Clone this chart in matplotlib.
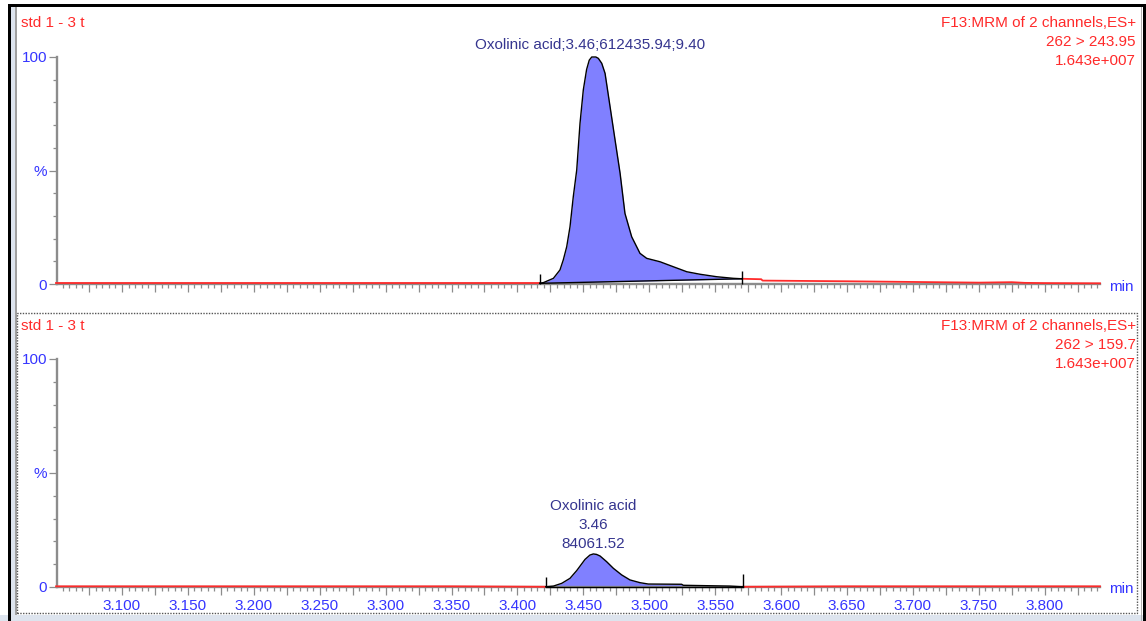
import numpy as np
import matplotlib
matplotlib.use("Agg")
import matplotlib.pyplot as plt
from matplotlib.patches import Rectangle
from matplotlib.ticker import MultipleLocator, FixedLocator

plt.rcParams['font.family'] = ['Liberation Sans', 'DejaVu Sans']

# ---- data (time in min, intensity in %) ----
top_time = [3.050, 3.200, 3.350, 3.417, 3.4197, 3.4273, 3.4323, 3.4348, 3.4374,
            3.4399, 3.4424, 3.4450, 3.4475, 3.4500, 3.4525, 3.4545, 3.4564,
            3.4595, 3.4614, 3.4640, 3.4665, 3.4703, 3.4741, 3.4779, 3.4816,
            3.4867, 3.4930, 3.4981, 3.5082, 3.5183, 3.5285, 3.5385, 3.5512,
            3.5638, 3.5705, 3.585, 3.586, 3.650, 3.700, 3.750, 3.775, 3.785,
            3.800, 3.842]
top_pct = [0.3, 0.3, 0.3, 0.3, 0.6, 2.5, 6.2, 10.6, 16.4,
           25.2, 38.5, 50.2, 70.8, 85.5, 94.5, 98.6, 100.0,
           100.0, 99.4, 97.2, 92.8, 78.1, 63.4, 48.8, 31.1,
           20.8, 13.5, 11.3, 9.8, 7.6, 5.4, 4.3, 3.2,
           2.5, 2.3, 2.1, 1.5, 1.2, 0.9, 0.6, 0.8, 0.5,
           0.4, 0.3]
top_start, top_end = 3.417, 3.5705

bot_time = [3.050, 3.200, 3.350, 3.4215, 3.4273, 3.4336, 3.4399, 3.4450,
            3.4513, 3.4550, 3.4576, 3.4600, 3.4627, 3.4677, 3.4728, 3.4791,
            3.4854, 3.4930, 3.4993, 3.5246, 3.5259, 3.5613, 3.5709, 3.650,
            3.750, 3.842]
bot_pct = [0.3, 0.3, 0.3, 0.1, 0.4, 1.6, 3.8, 7.2,
           12.1, 14.0, 14.5, 14.3, 13.6, 11.1, 8.2, 5.3,
           3.1, 1.9, 1.3, 1.2, 0.75, 0.4, 0.1, 0.3,
           0.3, 0.3]
bot_start, bot_end = 3.4215, 3.5709

x_ticks = [3.100, 3.150, 3.200, 3.250, 3.300, 3.350, 3.400, 3.450,
           3.500, 3.550, 3.600, 3.650, 3.700, 3.750, 3.800]
y_ticks = [0, 50, 100]
y_labels = ['0', '%', '100']

top_header = ['F13:MRM of 2 channels,ES+', '262 > 243.95', '1.643e+007']
bot_header = ['F13:MRM of 2 channels,ES+', '262 > 159.7', '1.643e+007']
top_peak_label = 'Oxolinic acid;3.46;612435.94;9.40'
bot_peak_label = ['Oxolinic acid', '3.46', '84061.52']

RED = '#ff2a2a'
BLUE = '#3535ff'
NAVY = '#35358f'
FILL = '#8080ff'
GRAY = '#8c8c8c'

W, H = 1146, 621
fig = plt.figure(figsize=(W / 100, H / 100), dpi=100)
fig.patch.set_facecolor('white')


def fx(x):
    return x / W


def fy(y):
    return 1 - y / H


def box(x0, y0, x1, y1, **kw):
    fig.add_artist(Rectangle((fx(x0), fy(y1)), (x1 - x0) / W, (y1 - y0) / H,
                             transform=fig.transFigure, **kw))


# window frame
box(10, 7, 15, 621, color='#dde4ee', lw=0)
box(15, 7, 16.5, 621, color='#a0a0a0', lw=0)
box(0, 615, 1146, 621, color='#dde4ee', lw=0)
box(8, 4, 10.5, 621, color='black', lw=0)
box(8, 4, 1146, 6.5, color='black', lw=0)
box(1143, 4, 1146, 621, color='black', lw=0)
box(1140.5, 6.5, 1142, 621, color='#b0b0b0', lw=0)
box(17, 313, 1137, 613, fill=False, ec='#555555', lw=1, ls=(0, (1, 1)))


def style_axes(ax, show_labels):
    ax.set_xlim(3.0507, 3.842)
    ax.set_ylim(0, 100)
    for s in ['top', 'right']:
        ax.spines[s].set_visible(False)
    for s in ['left', 'bottom']:
        ax.spines[s].set_color(GRAY)
        ax.spines[s].set_linewidth(1.7)
    ax.set_facecolor('none')
    ax.xaxis.set_major_locator(MultipleLocator(0.025))
    ax.xaxis.set_minor_locator(MultipleLocator(0.005))
    ax.yaxis.set_major_locator(FixedLocator(y_ticks))
    ax.yaxis.set_minor_locator(MultipleLocator(10))
    ax.set_yticklabels(y_labels)
    ax.tick_params(axis='x', which='major', length=6, width=0.9, color=GRAY,
                   labelsize=11, labelcolor=BLUE, pad=3)
    ax.tick_params(axis='x', which='minor', length=3, width=0.9, color=GRAY)
    ax.tick_params(axis='y', which='major', length=6, width=0.9, color=GRAY,
                   labelsize=11, labelcolor=BLUE, pad=1)
    ax.tick_params(axis='y', which='minor', length=3, width=0.9, color=GRAY)
    labels = ['%.3f' % v if any(abs(v - t) < 1e-6 for t in x_ticks) else ''
              for v in ax.get_xticks()]
    ax.set_xticks(ax.get_xticks())
    ax.set_xticklabels(labels if show_labels else [''] * len(labels))
    ax.set_xlim(3.0507, 3.842)


def draw_channel(ax, time, pct, start, end):
    t = np.array(time)
    y = np.array(pct)
    pre = t <= start
    post = t >= end
    inside = (t >= start) & (t <= end)
    ax.plot(t[pre], y[pre], color=RED, lw=1.3, clip_on=False, zorder=3)
    ax.plot(t[post], y[post], color=RED, lw=1.3, clip_on=False, zorder=3)
    ti, yi = t[inside], y[inside]
    base = np.interp(ti, [ti[0], ti[-1]], [yi[0], yi[-1]])
    ax.fill_between(ti, base, yi, color=FILL, lw=0, clip_on=False, zorder=2)
    ax.plot(ti, yi, color='black', lw=1.0, clip_on=False, zorder=4)
    ax.plot([ti[0], ti[-1]], [yi[0], yi[-1]], color='black', lw=1.0,
            clip_on=False, zorder=4)
    ax.vlines([start], 0, 4.5, color='black', lw=1.0, clip_on=False, zorder=4)
    ax.vlines([end], 0, 5.8, color='black', lw=1.0, clip_on=False, zorder=4)


ax1 = fig.add_axes([fx(57), fy(284), (1100 - 57) / W, 227 / H])
style_axes(ax1, False)
draw_channel(ax1, top_time, top_pct, top_start, top_end)
ax1.annotate(top_peak_label, xy=(3.455, 100), xytext=(0, 12),
             textcoords='offset pixels', ha='center', va='center',
             color=NAVY, fontsize=11)

ax2 = fig.add_axes([fx(57), fy(587), (1100 - 57) / W, 228 / H])
style_axes(ax2, True)
draw_channel(ax2, bot_time, bot_pct, bot_start, bot_end)
for i, line in enumerate(reversed(bot_peak_label)):
    ax2.annotate(line, xy=(3.4576, 14.5), xytext=(0, 10 + 19 * i),
                 textcoords='offset pixels', ha='center', va='center',
                 color=NAVY, fontsize=11)

# headers
for y0, header in [(23, top_header), (326, bot_header)]:
    fig.text(fx(21), fy(y0), 'std 1 - 3 t', color=RED, fontsize=11,
             ha='left', va='center')
    for i, line in enumerate(header):
        fig.text(fx(1136), fy(y0 + 19 * i), line, color=RED, fontsize=11,
                 ha='right', va='center')

fig.text(fx(1109), fy(287), 'min', color=BLUE, fontsize=11, va='center')
fig.text(fx(1109), fy(589), 'min', color=BLUE, fontsize=11, va='center')

fig.savefig('out.png', dpi=100)
